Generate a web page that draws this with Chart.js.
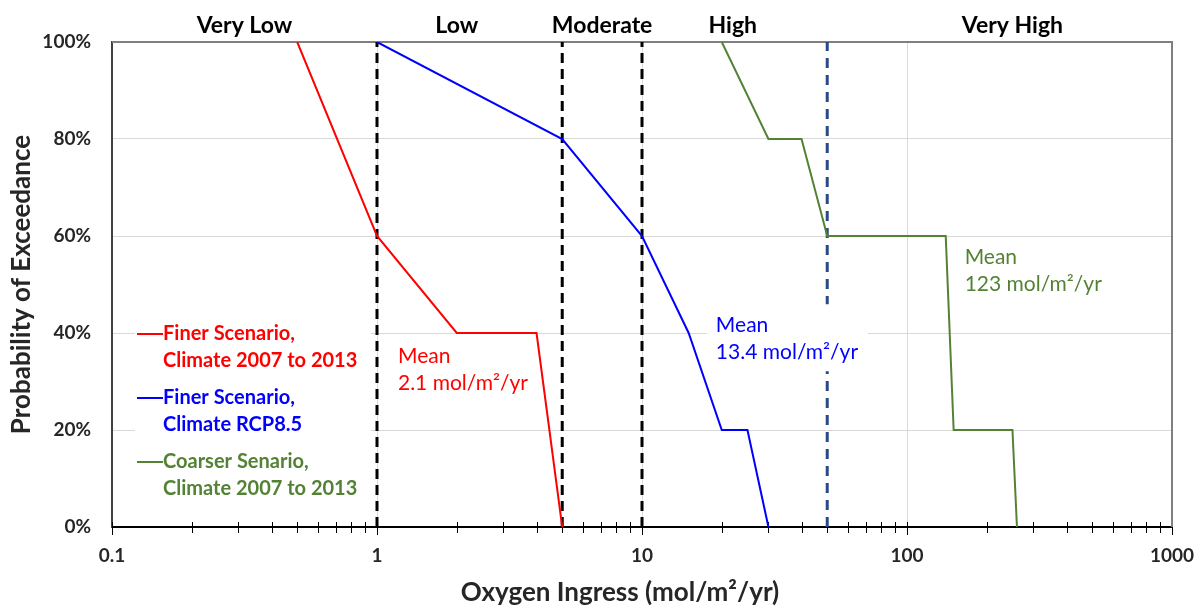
<!DOCTYPE html>
<html>
<head>
<meta charset="utf-8">
<script src="https://cdn.jsdelivr.net/npm/chart.js@4"></script>
<style>
  body { margin: 0; background: #fff; }
  #wrap { width: 1200px; height: 608px; }
</style>
</head>
<body>
<div id="wrap"><canvas id="chart" width="1200" height="608"></canvas></div>
<script>
// series (x in mol/m2/yr, y in % exceedance)
const redX = [0.5, 1, 2, 4, 5];
const redY = [100, 60, 40, 40, 0];
const blueX = [1, 5, 10, 15, 20, 25, 30];
const blueY = [100, 80, 60, 40, 20, 20, 0];
const greenX = [20, 30, 40, 50, 140, 150, 250, 260];
const greenY = [100, 80, 80, 60, 60, 20, 20, 0];

// class boundaries and the mean marker
const boundaryX = [1, 5, 10];
const meanLineX = 50;

const xDecades = [0.1, 1, 10, 100, 1000];
const yTicks = [0, 20, 40, 60, 80, 100];

const bandNames = ["Very Low", "Low", "Moderate", "High", "Very High"];
const bandCentres = [0.316, 2.0, 7.07, 22, 250];

const legendLines = [
  ["Finer Scenario,", "Climate 2007 to 2013"],
  ["Finer Scenario,", "Climate RCP8.5"],
  ["Coarser Senario,", "Climate 2007 to 2013"],
];
const meanLabels = [
  ["Mean", "2.1 mol/m\u00B2/yr"],
  ["Mean", "13.4 mol/m\u00B2/yr"],
  ["Mean", "123 mol/m\u00B2/yr"],
];
const meanLabelX = [1.2, 19, 165];
const meanLabelY = [35.2, 41.6, 55.6];

const colors = ["#ff0000", "#0000ff", "#548235"];
const FONT = "Lato, 'Open Sans', sans-serif";

function toPoints(xs, ys) {
  return xs.map((x, i) => ({ x: x, y: ys[i] }));
}

function allLogTicks() {
  const out = [];
  for (let e = -1; e < 3; e++) {
    for (let m = 1; m < 10; m++) {
      out.push({ value: m === 1 ? xDecades[e + 1] : m * Math.pow(10, e) });
    }
  }
  out.push({ value: 1000 });
  return out;
}

const seriesSets = [
  { data: toPoints(redX, redY), borderColor: colors[0] },
  { data: toPoints(blueX, blueY), borderColor: colors[1] },
  { data: toPoints(greenX, greenY), borderColor: colors[2] },
].map((d) => Object.assign(d, { showLine: true, borderWidth: 2, pointRadius: 0, order: 1 }));

const dashSets = boundaryX.map((x) => ({
  data: [{ x: x, y: 0 }, { x: x, y: 100 }],
  showLine: true, borderColor: "#000", borderWidth: 3, borderDash: [10, 6],
  pointRadius: 0, order: 5,
}));
dashSets.push({
  data: [{ x: meanLineX, y: 0 }, { x: meanLineX, y: 100 }],
  showLine: true, borderColor: "#2a4a86", borderWidth: 3, borderDash: [10, 7],
  pointRadius: 0, order: 5,
});

const extras = {
  id: "extras",
  beforeDatasetsDraw(chart) {
    const { ctx, chartArea: a, scales } = chart;
    const xs = scales.x;
    ctx.save();
    // tick marks crossing the x axis
    ctx.strokeStyle = "#000";
    ctx.lineWidth = 1;
    xs.ticks.forEach((t) => {
      const px = Math.round(xs.getPixelForValue(t.value)) + 0.5;
      const big = xDecades.includes(t.value);
      ctx.beginPath();
      ctx.moveTo(px, a.bottom - 5);
      ctx.lineTo(px, a.bottom + (big ? 8 : 6));
      ctx.stroke();
    });
    // top and right frame
    ctx.strokeStyle = "#7f7f7f";
    ctx.lineWidth = 2;
    ctx.beginPath();
    ctx.moveTo(a.left, a.top);
    ctx.lineTo(a.right, a.top);
    ctx.lineTo(a.right, a.bottom);
    ctx.stroke();
    ctx.restore();
  },
  afterDatasetsDraw(chart) {
    const { ctx, chartArea: a, scales } = chart;
    const xs = scales.x, ys = scales.y;
    ctx.save();

    // band names above the plot
    ctx.fillStyle = "#000";
    ctx.font = "bold 23px " + FONT;
    ctx.textAlign = "center";
    ctx.textBaseline = "middle";
    bandNames.forEach((n, i) => {
      ctx.fillText(n, xs.getPixelForValue(bandCentres[i]), 26);
    });

    // legend
    ctx.fillStyle = "#fff";
    ctx.fillRect(135, 315, 236, 190);
    ctx.font = "bold 20px " + FONT;
    ctx.textAlign = "left";
    legendLines.forEach((lines, i) => {
      const y0 = 334 + i * 64;
      ctx.strokeStyle = colors[i];
      ctx.lineWidth = 2;
      ctx.beginPath();
      ctx.moveTo(137, y0);
      ctx.lineTo(163, y0);
      ctx.stroke();
      ctx.fillStyle = colors[i];
      lines.forEach((s, j) => ctx.fillText(s, 163, y0 + j * 27));
    });

    // mean labels
    ctx.font = "21px " + FONT;
    meanLabels.forEach((lines, i) => {
      const px = xs.getPixelForValue(meanLabelX[i]);
      const py = ys.getPixelForValue(meanLabelY[i]);
      if (i === 1) {
        ctx.fillStyle = "#fff";
        ctx.fillRect(px - 9, py - 21, 161, 67);
      }
      ctx.fillStyle = colors[i];
      lines.forEach((s, j) => ctx.fillText(s, px, py + j * 27));
    });

    // axis titles
    ctx.fillStyle = "#262626";
    ctx.font = "bold 26px " + FONT;
    ctx.textAlign = "center";
    ctx.fillText("Oxygen Ingress (mol/m\u00B2/yr)", 620, 593);
    ctx.translate(22, (a.top + a.bottom) / 2);
    ctx.rotate(-Math.PI / 2);
    ctx.fillText("Probability of Exceedance", 0, 0);
    ctx.restore();
  },
};

const chart = new Chart(document.getElementById("chart"), {
  type: "scatter",
  data: { datasets: seriesSets.concat(dashSets) },
  options: {
    responsive: false,
    animation: false,
    layout: { padding: { top: 42, right: 28, left: 0, bottom: 0 } },
    plugins: { legend: { display: false }, tooltip: { enabled: false } },
    elements: { line: { tension: 0 } },
    scales: {
      x: {
        type: "logarithmic",
        min: 0.1,
        max: 1000,
        afterBuildTicks: (s) => { s.ticks = allLogTicks(); },
        afterFit: (s) => { s.height = 81; s.paddingLeft = 0; s.paddingRight = 0; },
        grid: {
          drawTicks: false,
          color: (c) => (c.tick && xDecades.includes(c.tick.value) ? "#d9d9d9" : "rgba(0,0,0,0)"),
        },
        border: { color: "#000", width: 2 },
        ticks: {
          autoSkip: false,
          maxRotation: 0,
          padding: 17,
          color: "#262626",
          font: { family: FONT, size: 19, weight: "bold" },
          callback: (v) => (xDecades.includes(v) ? String(v) : ""),
        },
      },
      y: {
        min: 0,
        max: 100,
        afterBuildTicks: (s) => { s.ticks = yTicks.map((v) => ({ value: v })); },
        afterFit: (s) => { s.width = 112; s.paddingTop = 0; s.paddingBottom = 0; },
        grid: {
          drawTicks: false,
          color: (c) => (c.tick && c.tick.value > 0 && c.tick.value < 100 ? "#d9d9d9" : "rgba(0,0,0,0)"),
        },
        border: { color: "#404040", width: 2 },
        ticks: {
          padding: 21,
          color: "#262626",
          font: { family: FONT, size: 19, weight: "bold" },
          callback: (v) => v + "%",
        },
      },
    },
  },
  plugins: [extras],
});
</script>
</body>
</html>
